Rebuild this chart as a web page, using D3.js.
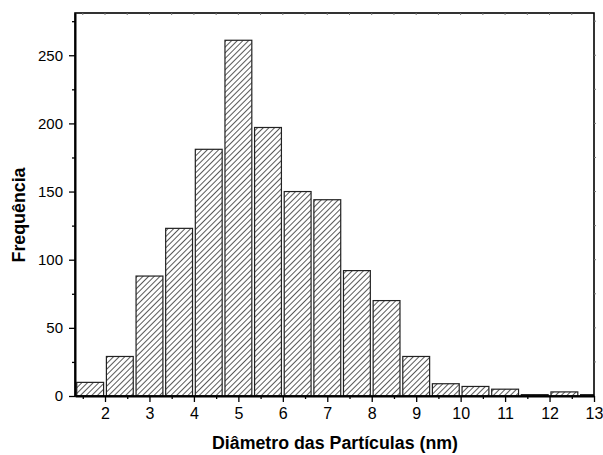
<!DOCTYPE html>
<html>
<head>
<meta charset="utf-8">
<script src="https://cdn.jsdelivr.net/npm/d3@7"></script>
<style>
  body { margin: 0; background: #fff; }
  svg { display: block; font-family: Arial, "Liberation Sans", sans-serif; }
</style>
</head>
<body>
<div id="chart"></div>
<script>
// histogram bins (lower edge, nm) and counts
var binStarts = [1.333, 2.0, 2.667, 3.333, 4.0, 4.667, 5.333, 6.0, 6.667, 7.333, 8.0, 8.667, 9.333, 10.0, 10.667, 11.333, 12.0, 12.667];
var binWidth = 0.667;
var counts = [10, 29, 88, 123, 181, 261, 197, 150, 144, 92, 70, 29, 9, 7, 5, 1, 3, 1];

var xTicks = [2, 3, 4, 5, 6, 7, 8, 9, 10, 11, 12, 13];
var xMinor = [1.5, 2.5, 3.5, 4.5, 5.5, 6.5, 7.5, 8.5, 9.5, 10.5, 11.5, 12.5];
var yTicks = [0, 50, 100, 150, 200, 250];
var yMinor = [25, 75, 125, 175, 225, 275];

var xLabel = "Diâmetro das Partículas (nm)";
var yLabel = "Frequência";

(function() {

  var data = binStarts.map(function(b, i) { return { x0: b, x1: b + binWidth, n: counts[i] }; });

  var width = 603, height = 455;
  // plot box (window.top is read-only, so keep these local)
  var pl = 75, pr = 594, pt = 13, pb = 396;

  var svg = d3.select("#chart").append("svg")
      .attr("width", width)
      .attr("height", height);

  var x = d3.scaleLinear().domain([1.325, 13]).range([pl, pr]);
  var y = d3.scaleLinear().domain([0, 281]).range([pb, pt]);

  var defs = svg.append("defs");

  // diagonal hatch like the original
  var pat = defs.append("pattern")
      .attr("id", "hatch")
      .attr("patternUnits", "userSpaceOnUse")
      .attr("width", 4)
      .attr("height", 4)
      .attr("patternTransform", "rotate(45)");
  pat.append("rect").attr("width", 4).attr("height", 4).attr("fill", "#fff");
  pat.append("line")
      .attr("x1", 0).attr("y1", 0)
      .attr("x2", 0).attr("y2", 4)
      .attr("stroke", "#000")
      .attr("stroke-width", 1.3);

  defs.append("clipPath").attr("id", "plotclip")
    .append("rect")
      .attr("x", pl).attr("y", pt)
      .attr("width", pr - pl).attr("height", pb - pt);

  // bars
  var inset = 1.4;
  svg.append("g")
      .attr("clip-path", "url(#plotclip)")
    .selectAll("rect")
    .data(data)
    .enter()
    .append("rect")
      .attr("x", function(d) { return x(d.x0) + inset; })
      .attr("width", function(d) { return x(d.x1) - x(d.x0) - 2 * inset; })
      .attr("y", function(d) { return y(d.n); })
      .attr("height", function(d) { return y(0) - y(d.n); })
      .attr("fill", "url(#hatch)")
      .attr("stroke", "#222")
      .attr("stroke-width", 1.2);

  // frame (top / right)
  svg.append("rect")
      .attr("x", pl).attr("y", pt)
      .attr("width", pr - pl).attr("height", pb - pt)
      .attr("fill", "none")
      .attr("stroke", "#000")
      .attr("stroke-width", 1.6);

  // tiny inner ticks on top and right
  svg.append("g").selectAll("line")
    .data(xMinor.concat(xTicks.slice(0, -1)))
    .enter().append("line")
      .attr("x1", function(d) { return x(d); })
      .attr("x2", function(d) { return x(d); })
      .attr("y1", pt).attr("y2", pt + 2)
      .attr("stroke", "#777");
  svg.append("g").selectAll("line")
    .data(yMinor.concat(yTicks.slice(1)))
    .enter().append("line")
      .attr("x1", pr).attr("x2", pr + 2)
      .attr("y1", function(d) { return y(d); })
      .attr("y2", function(d) { return y(d); })
      .attr("stroke", "#777");

  // bottom axis
  var gx = svg.append("g")
      .attr("transform", "translate(0," + pb + ")")
      .call(d3.axisBottom(x).tickValues(xTicks).tickSize(6).tickSizeOuter(0).tickPadding(6));
  gx.append("g")
      .call(d3.axisBottom(x).tickValues(xMinor).tickSize(3).tickSizeOuter(0).tickFormat(""))
      .select(".domain").remove();
  gx.selectAll("text")
      .attr("font-size", 16)
      .attr("font-family", "Arial, 'Liberation Sans', sans-serif")
      .attr("fill", "#000");

  // left axis
  var gy = svg.append("g")
      .attr("transform", "translate(" + pl + ",0)")
      .call(d3.axisLeft(y).tickValues(yTicks).tickSize(6).tickSizeOuter(0).tickPadding(6));
  gy.append("g")
      .call(d3.axisLeft(y).tickValues(yMinor).tickSize(3).tickSizeOuter(0).tickFormat(""))
      .select(".domain").remove();
  gy.selectAll("text")
      .attr("font-size", 15)
      .attr("font-family", "Arial, 'Liberation Sans', sans-serif")
      .attr("fill", "#000");

  svg.selectAll(".domain").attr("stroke-width", 2);
  svg.selectAll(".tick line").attr("stroke-width", 1.3);

  // axis titles
  svg.append("text")
      .attr("x", 335)
      .attr("y", 449)
      .attr("text-anchor", "middle")
      .attr("font-size", 17.5)
      .attr("font-weight", "bold")
      .attr("textLength", 246)
      .attr("lengthAdjust", "spacingAndGlyphs")
      .text(xLabel);

  svg.append("text")
      .attr("transform", "translate(25,215) rotate(-90)")
      .attr("text-anchor", "middle")
      .attr("font-size", 17.5)
      .attr("font-weight", "bold")
      .attr("textLength", 95)
      .attr("lengthAdjust", "spacingAndGlyphs")
      .text(yLabel);

})();
</script>
</body>
</html>
